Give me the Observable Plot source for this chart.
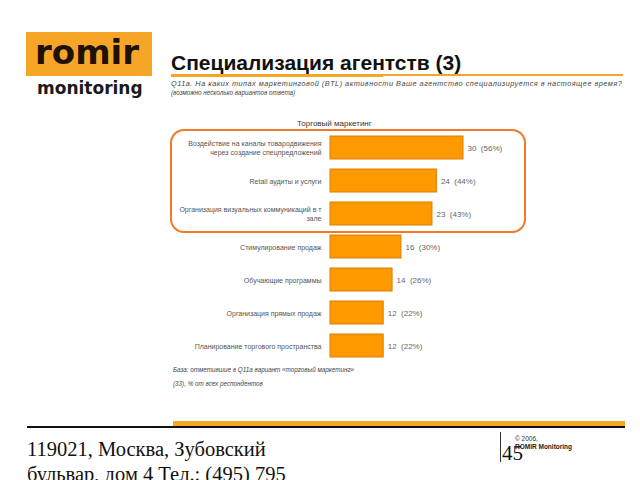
<!DOCTYPE html>
<html><head><meta charset="utf-8">
<script src="https://cdn.jsdelivr.net/npm/d3@7"></script>
<script src="https://cdn.jsdelivr.net/npm/@observablehq/plot@0.6"></script>
<style>
body{margin:0;background:#fff;font-family:"Liberation Sans",Arial,sans-serif;}
#page{position:relative;width:640px;height:480px;overflow:hidden;}
.abs{position:absolute;white-space:nowrap;}
</style></head>
<body><div id="page">
  <div class="abs" style="left:26px;top:32px;width:126px;height:44px;background:#F7A527;"></div>
  <div class="abs" style="left:35px;top:32px;font-family:'DejaVu Sans',sans-serif;font-size:34px;font-weight:bold;color:#1e1208;line-height:40px;">romir</div>
  <div class="abs" style="left:37px;top:78px;font-family:'DejaVu Sans',sans-serif;font-size:17px;font-weight:bold;color:#1a1a1a;line-height:20px;">monitoring</div>
  <div class="abs" id="title" style="left:171px;top:51px;font-size:21px;font-weight:bold;color:#111;line-height:24px;"></div>
  <div class="abs" style="left:171px;top:74px;width:452px;height:2px;background:#F7A527;"></div>
  <div class="abs" style="left:171px;top:74px;width:212px;height:3px;background:#F7A527;"></div>
  <div class="abs" id="q1" style="left:171px;top:79px;font-size:7.3px;font-style:italic;color:#444;letter-spacing:0.5px;"></div>
  <div class="abs" id="q2" style="left:171px;top:89px;font-size:6.3px;font-style:italic;color:#444;"></div>
  <div class="abs" id="ctitle" style="left:297px;top:119px;font-size:8px;color:#333;"></div>
  <div id="chart" class="abs" style="left:0;top:115px;"></div>
  <div class="abs" style="left:170px;top:129px;width:352px;height:100px;border:2px solid #F07A2A;border-radius:14px;"></div>
  <div class="abs" id="f1" style="left:173px;top:366px;font-size:6.3px;font-style:italic;color:#444;"></div>
  <div class="abs" id="f2" style="left:173px;top:380px;font-size:6.3px;font-style:italic;color:#444;"></div>
  <div class="abs" style="left:27px;top:426px;width:598px;height:2px;background:#111;"></div>
  <div class="abs" style="left:173px;top:421px;width:452px;height:5px;background:#F7A527;"></div>
  <div class="abs" style="left:27px;top:437px;font-family:'Liberation Serif',serif;font-size:20.5px;color:#111;line-height:25px;white-space:normal;width:300px;">119021, Москва, Зубовский бульвар, дом 4 Тел.: (495) 795</div>
  <div class="abs" style="left:500px;top:432px;width:1px;height:30px;background:#333;"></div>
  <div class="abs" style="left:502px;top:441px;font-family:'Liberation Serif',serif;font-size:21px;color:#111;">45</div>
  <div class="abs" style="left:515px;top:435px;font-size:6.5px;color:#333;">© 2006,</div>
  <div class="abs" style="left:515px;top:443px;font-size:6.5px;font-weight:bold;color:#222;">ROMIR Monitoring</div>
</div>
<script>
const title = "Специализация агентств (3)";
const question = "Q11a. На каких типах маркетинговой (BTL) активности Ваше агентство специализируется в настоящее время?";
const questionNote = "(возможно несколько вариантов ответа)";
const chartTitle = "Торговый маркетинг";
const baseNote1 = "База: отметившие в Q11a вариант «торговый маркетинг»";
const baseNote2 = "(33), % от всех респондентов";

const categories = [
  "Воздействие на каналы товародвижения\nчерез создание спецпредложений",
  "Retail аудиты и услуги",
  "Организация визуальных коммуникаций в т\nзале",
  "Стимулирование продаж",
  "Обучающие программы",
  "Организация прямых продаж",
  "Планирование торгового пространства"
];
const counts = [30, 24, 23, 16, 14, 12, 12];
const percents = [56, 44, 43, 30, 26, 22, 22];

document.getElementById("title").textContent = title;
document.getElementById("q1").textContent = question;
document.getElementById("q2").textContent = questionNote;
document.getElementById("ctitle").textContent = chartTitle;
document.getElementById("f1").textContent = baseNote1;
document.getElementById("f2").textContent = baseNote2;

const data = categories.map((c, i) => ({cat: c, n: counts[i], p: percents[i]}));

const chart = Plot.plot({
  width: 640,
  height: 250,
  style: {fontFamily: "'Liberation Sans', Arial, sans-serif", background: "transparent"},
  x: {domain: [0, 30], range: [330, 463], axis: null},
  y: {domain: categories, range: [15.5, 247.5], paddingInner: 0.3, paddingOuter: 0.15, align: 0.5, axis: null},
  marks: [
    Plot.barX(data, {y: "cat", x: "n", fill: "#FF9900", stroke: "#D97F00", strokeWidth: 1}),
    Plot.text(data, {y: "cat", x: 0, text: "cat", textAnchor: "end", dx: -9, fontSize: 7, fill: "#555", lineHeight: 1.25}),
    Plot.text(data, {y: "cat", x: "n", text: d => `${d.n}  (${d.p}%)`, textAnchor: "start", dx: 4, fontSize: 8, fill: "#666"})
  ]
});
document.getElementById("chart").appendChild(chart);
</script>
</body></html>
